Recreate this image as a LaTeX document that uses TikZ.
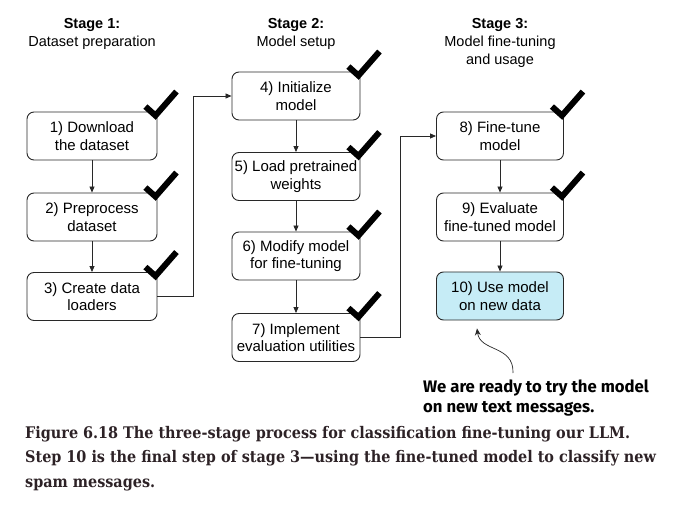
\documentclass[tikz,border=0pt]{standalone}
\usepackage{fontspec}
\setmainfont{Liberation Sans}
\newfontfamily\capfont{DejaVu Serif Condensed}
\newfontfamily\annfont{Fira Sans}
\usetikzlibrary{arrows.meta}
\definecolor{edgecol}{RGB}{40,40,40}
\definecolor{usefill}{RGB}{198,236,246}
\definecolor{capcol}{RGB}{45,34,38}
\begin{document}
\begin{tikzpicture}[x=1pt,y=-1pt,
  stepbox/.style={draw=edgecol, line width=0.9pt, rounded corners=7pt, align=center,
    font=\fontsize{15}{17.5}\selectfont, inner sep=0pt, minimum height=48pt},
  wa/.style={stepbox, minimum width=130pt},
  wb/.style={stepbox, minimum width=128pt},
  wc/.style={stepbox, minimum width=127pt},
  arr/.style={-{Triangle[length=6pt,width=5pt]}, line width=0.8pt, draw=edgecol},
  checkmark/.style={line width=6pt, line join=miter, draw=black},
  title/.style={align=center, font=\fontsize{14.5}{18}\selectfont, inner sep=0pt},
  anntext/.style={align=left, font=\annfont\bfseries\fontsize{16.7}{20}\selectfont, inner sep=0pt, anchor=north west},
  captext/.style={align=left, font=\capfont\bfseries\fontsize{16}{24.5}\selectfont, text=capcol, inner sep=0pt, anchor=north west}
]
\useasboundingbox (0,0) rectangle (675,505);

% titles
\node[title] (t1) at (92,34) {\textbf{Stage 1:}\\Dataset preparation};
\node[title] (t2) at (296,34) {\textbf{Stage 2:}\\Model setup};
\node[title] (t3) at (500,43) {\textbf{Stage 3:}\\Model fine-tuning\\and usage};

% stage 1
\node[wa] (b1) at (92,136) {1) Download\\the dataset};
\node[wa] (b2) at (92,217) {2) Preprocess\\dataset};
\node[wa] (b3) at (92,296.5) {3) Create data\\loaders};
% stage 2
\node[wb] (b4) at (296,96) {4) Initialize\\model};
\node[wb] (b5) at (296,176.5) {5) Load pretrained\\weights};
\node[wb] (b6) at (296,256) {6) Modify model\\for fine-tuning};
\node[wb] (b7) at (296,337.5) {7) Implement\\evaluation utilities};
% stage 3
\node[wc] (b8) at (500,136) {8) Fine-tune\\model};
\node[wc] (b9) at (500,217) {9) Evaluate\\fine-tuned model};
\node[wc, fill=usefill] (b10) at (500,296) {10) Use model\\on new data};

% connectors
\draw[arr] (b1) -- (b2);
\draw[arr] (b2) -- (b3);
\draw[arr] (b3.east) -- ++(36,0) |- (b4.west);
\draw[arr] (b4) -- (b5);
\draw[arr] (b5) -- (b6);
\draw[arr] (b6) -- (b7);
\draw[arr] (b7.east) -- ++(40,0) |- (b8.west);
\draw[arr] (b8) -- (b9);
\draw[arr] (b9) -- (b10);

% check marks
\foreach \b in {b1,b2,b3,b4,b5,b6,b7,b8,b9}
  \draw[checkmark] ([shift={(-12,-5)}]\b.north east) -- ++(10,9) -- ++(21,-24);

% annotation
\node[anntext] (note) at (423,380) {We are ready to try the model\\on new text messages.};
\coordinate (nstart) at (513,373);
\draw[-{Stealth[length=7pt,width=6pt]}, line width=0.7pt, draw=edgecol]
  (nstart) .. controls (514,345) and (480,352) .. ([xshift=-23pt,yshift=-8pt]b10.south);

% caption
\node[captext] (caption) at (25,426) {Figure 6.18 The three-stage process for classification fine-tuning our LLM.\\Step 10 is the final step of stage 3—using the fine-tuned model to classify new\\spam messages.};
\end{tikzpicture}
\end{document}
